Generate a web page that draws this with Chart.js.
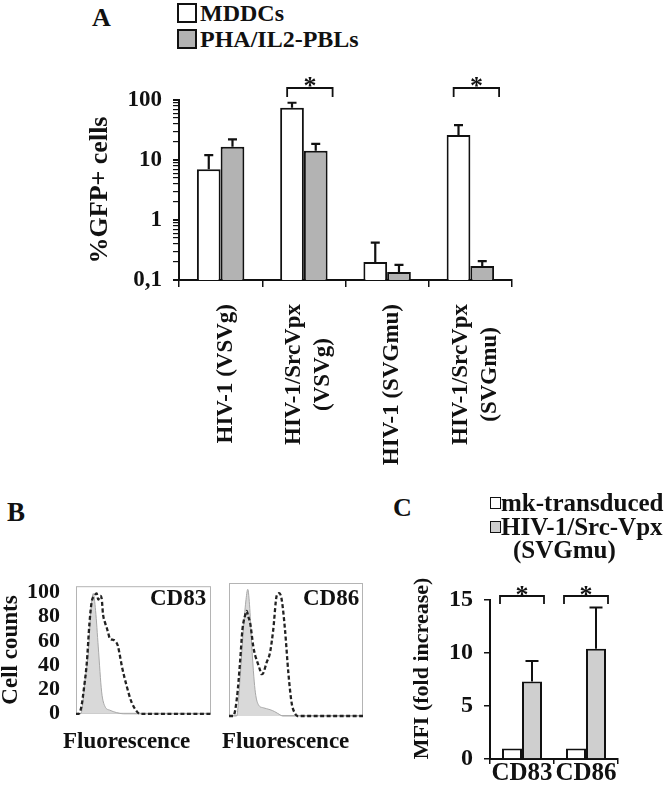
<!DOCTYPE html>
<html>
<head>
<meta charset="utf-8">
<script src="https://cdn.jsdelivr.net/npm/chart.js@4.4.1/dist/chart.umd.min.js"></script>
<style>
  html, body { margin:0; padding:0; background:#fff; }
  #fig { position:relative; width:666px; height:787px; overflow:hidden; font-family:'Liberation Serif','Times New Roman',serif; font-weight:bold; color:#111; }
  #fig canvas { position:absolute; }
  .t { position:absolute; white-space:nowrap; line-height:1; }
  .box { position:absolute; box-sizing:border-box; border:2px solid #111; }
</style>
</head>
<body>
<div id="fig">
  <canvas id="gfp-chart" width="450" height="410" style="left:80px;top:60px"></canvas>
  <canvas id="cd83-hist" width="215" height="170" style="left:0;top:565px"></canvas>
  <canvas id="cd86-hist" width="150" height="170" style="left:220px;top:565px"></canvas>
  <canvas id="mfi-chart" width="240" height="227" style="left:400px;top:560px"></canvas>

  <div class="t" style="left:92px;top:5px;font-size:26px">A</div>
  <div class="box" style="left:177px;top:3px;width:20px;height:20px;background:#fff"></div>
  <div class="box" style="left:177px;top:29px;width:20px;height:20px;background:#b3b3b3"></div>
  <div class="t" style="left:200px;top:1px;font-size:24px">MDDCs</div>
  <div class="t" style="left:200px;top:27px;font-size:24px">PHA/IL2-PBLs</div>

  <div class="t" style="left:7px;top:499px;font-size:27px">B</div>
  <div class="t" style="left:150px;top:586px;font-size:23px">CD83</div>
  <div class="t" style="left:303px;top:586px;font-size:23px">CD86</div>
  <div class="t" style="left:63px;top:729px;font-size:23px">Fluorescence</div>
  <div class="t" style="left:222px;top:729px;font-size:23px">Fluorescence</div>

  <div class="t" style="left:393px;top:495px;font-size:26px">C</div>
  <div class="box" style="left:490px;top:497px;width:11px;height:12px;border-width:1.5px;background:#fff"></div>
  <div class="box" style="left:490px;top:521px;width:11px;height:12px;border-width:1.5px;background:#cfcfcf"></div>
  <div class="t" style="left:501px;top:490px;font-size:25px">mk-transduced</div>
  <div class="t" style="left:501px;top:514px;font-size:25px">HIV-1/Src-Vpx</div>
  <div class="t" style="left:513px;top:537px;font-size:25px">(SVGmu)</div>
</div>

<script>
'use strict';

// ── Panel A: % GFP+ cells (log scale) ─────────────────────────────────────────
const gfpCategories = [['HIV-1 (VSVg)'], ['HIV-1/SrcVpx', '(VSVg)'], ['HIV-1 (SVGmu)'], ['HIV-1/SrcVpx', '(SVGmu)']];
const mddcGfp = [7.0, 74, 0.2, 26];
const mddcGfpErr = [5.1, 16, 0.22, 12];
const pblGfp = [16.7, 14.3, 0.136, 0.171];
const pblGfpErr = [5.4, 4.2, 0.042, 0.036];
const gfpSignificant = [1, 3];
const gfpTicks = [0.1, 0.2, 0.3, 0.4, 0.5, 0.6, 0.7, 0.8, 0.9, 1, 2, 3, 4, 5, 6, 7, 8, 9, 10, 20, 30, 40, 50, 60, 70, 80, 90, 100];
const gfpTickLabels = { 0.1: '0,1', 1: '1', 10: '10', 100: '100' };

// ── Panel B: flow histograms (channel position %, cell counts %) ──────────────
const cd83IsoX = [0, 3, 4.2, 6.7, 9.1, 11, 12.8, 14.5, 16.5, 19, 21.5, 25, 30, 35, 100];
const cd83IsoY = [0, 0, 2, 28, 50, 85, 99, 85, 55, 18, 6, 3, 1, 0, 0];
const cd83StimX = [0, 2, 4, 6, 8, 10, 11.6, 13.5, 15.3, 16.5, 18, 19, 20, 21.5, 22.7, 24, 25, 27, 29, 31, 32.5, 34, 37.5, 41, 45, 47.4, 100];
const cd83StimY = [0, 0, 6, 22, 42, 75, 92, 97, 99, 94, 97, 95, 82, 75, 71, 66, 62, 61, 60, 56, 48, 39, 23, 10, 2, 0, 0];
const cd86IsoX = [0, 5.7, 8.2, 10.7, 12.5, 14, 15.5, 17, 19.4, 21.9, 25.6, 30.6, 34, 38, 40, 100];
const cd86IsoY = [0, 0, 29, 68, 90, 100, 85, 55, 21, 9, 6.5, 5, 3.5, 1, 0, 0];
const cd86StimX = [0, 3.2, 6, 8.2, 10, 11.9, 13.2, 14.5, 15.7, 17, 18.1, 19.5, 20.7, 22, 23.1, 24.4, 25.6, 28, 30.6, 33, 35.6, 37.5, 39.3, 41.8, 44.3, 46.8, 49.3, 51, 100];
const cd86StimY = [0, 0, 15, 42, 68, 79, 83, 78, 74, 64, 55, 48, 44, 40, 36.5, 33, 34, 42, 50, 68, 95, 97, 92, 68, 34, 10, 2, 0, 0];
const countTicks = [0, 20, 40, 60, 80, 100];

// ── Panel C: MFI fold increase ────────────────────────────────────────────────
const mfiMarkers = ['CD83', 'CD86'];
const mfiMock = [1, 1];
const mfiMockErr = [0, 0];
const mfiVpx = [7.3, 10.4];
const mfiVpxErr = [1.95, 3.9];
const mfiSignificant = [0, 1];
const mfiTicks = [0, 5, 10, 15];

const SERIF = "'Liberation Serif', 'Times New Roman', serif";
const INK = '#111';

Chart.defaults.font.family = SERIF;
Chart.defaults.font.weight = 'bold';
Chart.defaults.color = INK;
Chart.defaults.animation = false;
Chart.defaults.events = [];
Chart.defaults.plugins.legend.display = false;
Chart.defaults.plugins.tooltip.enabled = false;

// ── helpers / plugins ─────────────────────────────────────────────────────────
const isDecade = v => v !== undefined && Math.abs(Math.log10(v) - Math.round(Math.log10(v))) < 1e-9;

const errorBarPlugin = {
  id: 'errorBars',
  afterDatasetsDraw(chart, args, opts) {
    const { ctx } = chart;
    const y = chart.scales.y;
    ctx.save();
    ctx.strokeStyle = INK;
    ctx.lineWidth = opts.width;
    chart.data.datasets.forEach((ds, di) => {
      chart.getDatasetMeta(di).data.forEach((bar, i) => {
        const err = ds.errors[i];
        if (!err) return;
        const top = y.getPixelForValue(ds.data[i] + err);
        ctx.beginPath();
        ctx.moveTo(bar.x, bar.y);
        ctx.lineTo(bar.x, top);
        ctx.moveTo(bar.x - opts.cap, top);
        ctx.lineTo(bar.x + opts.cap, top);
        ctx.stroke();
      });
    });
    ctx.restore();
  }
};

const bracketPlugin = {
  id: 'sigBrackets',
  afterDatasetsDraw(chart, args, opts) {
    const { ctx, chartArea } = chart;
    const a = chart.getDatasetMeta(0).data, b = chart.getDatasetMeta(1).data;
    const lineY = chartArea.top - opts.rise;
    ctx.save();
    ctx.strokeStyle = INK; ctx.fillStyle = INK; ctx.lineWidth = 1.8;
    ctx.font = `bold ${opts.starSize}px ${SERIF}`;
    ctx.textAlign = 'center'; ctx.textBaseline = 'alphabetic';
    opts.groups.forEach(i => {
      const x1 = a[i].x - a[i].width / 2 + opts.inset[0];
      const x2 = b[i].x + b[i].width / 2 + opts.inset[1];
      ctx.beginPath();
      ctx.moveTo(x1, lineY + opts.leg); ctx.lineTo(x1, lineY);
      ctx.lineTo(x2, lineY); ctx.lineTo(x2, lineY + opts.leg);
      ctx.stroke();
      ctx.fillText('*', (x1 + x2) / 2, lineY + opts.starDrop);
    });
    ctx.restore();
  }
};

// rotated category labels, extra lines centred on the first one
const stackedLabelPlugin = {
  id: 'stackedLabels',
  afterDraw(chart, args, opts) {
    const { ctx } = chart; const x = chart.scales.x;
    ctx.save();
    ctx.font = `bold ${opts.size}px ${SERIF}`; ctx.fillStyle = INK;
    ctx.textAlign = 'center'; ctx.textBaseline = 'middle';
    chart.data.labels.forEach((lines, i) => {
      const cx = x.getPixelForValue(i) + opts.shift;
      const mid = x.top + opts.gap + ctx.measureText(lines[0]).width / 2;
      lines.forEach((line, k) => {
        ctx.save();
        ctx.translate(cx + (k - (lines.length - 1) / 2) * opts.lineGap, mid);
        ctx.rotate(-Math.PI / 2);
        ctx.fillText(line, 0, 0);
        ctx.restore();
      });
    });
    ctx.restore();
  }
};

const frameBoxPlugin = {
  id: 'frameBox',
  beforeDatasetsDraw(chart) {
    const { ctx, chartArea: { left, top, width, height } } = chart;
    ctx.save();
    ctx.strokeStyle = '#b4b4b4'; ctx.lineWidth = 1;
    ctx.strokeRect(left + 0.5, top + 0.5, width - 1, height - 1);
    ctx.restore();
  }
};

const xy = (xs, ys) => xs.map((x, i) => ({ x, y: ys[i] }));

// ── Panel A chart ─────────────────────────────────────────────────────────────
new Chart(document.getElementById('gfp-chart'), {
  type: 'bar',
  data: {
    labels: gfpCategories,
    datasets: [
      { label: 'MDDCs', data: mddcGfp, errors: mddcGfpErr, backgroundColor: '#fff', borderColor: INK, borderWidth: 2, categoryPercentage: 0.57, barPercentage: 1 },
      { label: 'PHA/IL2-PBLs', data: pblGfp, errors: pblGfpErr, backgroundColor: '#b3b3b3', borderColor: INK, borderWidth: 2, categoryPercentage: 0.57, barPercentage: 1 }
    ]
  },
  options: {
    responsive: false,
    layout: { padding: { top: 40, right: 18, left: 0, bottom: 0 } },
    scales: {
      x: {
        offset: true,
        grid: { offset: true, drawOnChartArea: false, tickLength: 7, color: INK, lineWidth: 1.5 },
        border: { color: INK, width: 2 },
        ticks: { display: false },
        afterFit: s => { s.height = 190; }
      },
      y: {
        type: 'logarithmic', min: 0.1, max: 100,
        afterBuildTicks: s => { s.ticks = gfpTicks.map(v => ({ value: v })); },
        afterFit: s => { s.width = 99; },
        ticks: { autoSkip: false, padding: 11, font: { size: 23 }, callback: v => gfpTickLabels[v] ?? '' },
        grid: { drawOnChartArea: false, tickLength: 6, color: INK, lineWidth: c => isDecade(c.tick && c.tick.value) ? 2 : 1.2 },
        border: { color: INK, width: 2 },
        title: { display: true, text: '%GFP+ cells', font: { size: 26, lineHeight: 1 }, padding: { top: 7, bottom: 0 } }
      }
    },
    plugins: {
      errorBars: { cap: 4.5, width: 2.2 },
      sigBrackets: { groups: gfpSignificant, rise: 12, leg: 9, inset: [7, 5], starSize: 26, starDrop: 6 },
      stackedLabels: { size: 23, gap: 24, shift: 5, lineGap: 29 }
    }
  },
  plugins: [errorBarPlugin, bracketPlugin, stackedLabelPlugin]
});

// ── Panel B histograms ────────────────────────────────────────────────────────
function histChart(id, isoX, isoY, stimX, stimY, showAxis, padding) {
  return new Chart(document.getElementById(id), {
    type: 'line',
    data: {
      datasets: [
        { data: xy(stimX, stimY), borderColor: '#222', borderWidth: 2.3, borderDash: [4, 2.5], pointRadius: 0, fill: false, cubicInterpolationMode: 'monotone', clip: 3 },
        { data: xy(isoX, isoY), borderColor: '#a8a8a8', borderWidth: 1, backgroundColor: '#d9d9d9', pointRadius: 0, fill: 'origin', cubicInterpolationMode: 'monotone', clip: 3 }
      ]
    },
    options: {
      responsive: false,
      layout: { padding },
      scales: {
        x: { type: 'linear', min: 0, max: 100, display: false },
        y: {
          min: 0, max: 105, display: showAxis,
          afterBuildTicks: s => { s.ticks = countTicks.map(v => ({ value: v })); },
          afterFit: s => { if (showAxis) s.width = 76; },
          ticks: { autoSkip: false, padding: 8, font: { size: 22 } },
          grid: { display: false },
          border: { display: false },
          title: { display: true, text: 'Cell counts', font: { size: 23, lineHeight: 1 }, padding: { top: 0, bottom: 0 } }
        }
      }
    },
    plugins: [frameBoxPlugin]
  });
}
histChart('cd83-hist', cd83IsoX, cd83IsoY, cd83StimX, cd83StimY, true, { top: 18, right: 4, bottom: 19, left: 0 });
histChart('cd86-hist', cd86IsoX, cd86IsoY, cd86StimX, cd86StimY, false, { top: 18, right: 7, bottom: 19, left: 9 });

// ── Panel C chart ─────────────────────────────────────────────────────────────
new Chart(document.getElementById('mfi-chart'), {
  type: 'bar',
  data: {
    labels: mfiMarkers,
    datasets: [
      { label: 'mk-transduced', data: mfiMock, errors: mfiMockErr, backgroundColor: '#fff', borderColor: INK, borderWidth: 2, categoryPercentage: 0.625, barPercentage: 1 },
      { label: 'HIV-1/Src-Vpx (SVGmu)', data: mfiVpx, errors: mfiVpxErr, backgroundColor: '#cfcfcf', borderColor: INK, borderWidth: 2, categoryPercentage: 0.625, barPercentage: 1 }
    ]
  },
  options: {
    responsive: false,
    layout: { padding: { top: 40, right: 22, left: 0, bottom: 0 } },
    scales: {
      x: {
        offset: true,
        grid: { offset: true, drawOnChartArea: false, tickLength: 5, color: INK, lineWidth: 1.5 },
        border: { color: INK, width: 2 },
        ticks: { padding: -3, autoSkip: false, maxRotation: 0, minRotation: 0, font: { size: 25, lineHeight: 1 } },
        afterFit: s => { s.height = 28; }
      },
      y: {
        min: 0, max: 15,
        afterBuildTicks: s => { s.ticks = mfiTicks.map(v => ({ value: v })); },
        afterFit: s => { s.width = 90; },
        ticks: { padding: 11, font: { size: 24 } },
        grid: { drawOnChartArea: false, tickLength: 6, color: INK, lineWidth: 1.5 },
        border: { color: INK, width: 2 },
        title: { display: true, text: '\u00a0\u00a0\u00a0\u00a0MFI (fold increase)', font: { size: 22, lineHeight: 1 }, padding: { top: 11, bottom: 0 } }
      }
    },
    plugins: {
      errorBars: { cap: 6.5, width: 2 },
      sigBrackets: { groups: mfiSignificant, rise: 4, leg: 8, inset: [-2, 2], starSize: 26, starDrop: 7 }
    }
  },
  plugins: [errorBarPlugin, bracketPlugin]
});
</script>
</body>
</html>
